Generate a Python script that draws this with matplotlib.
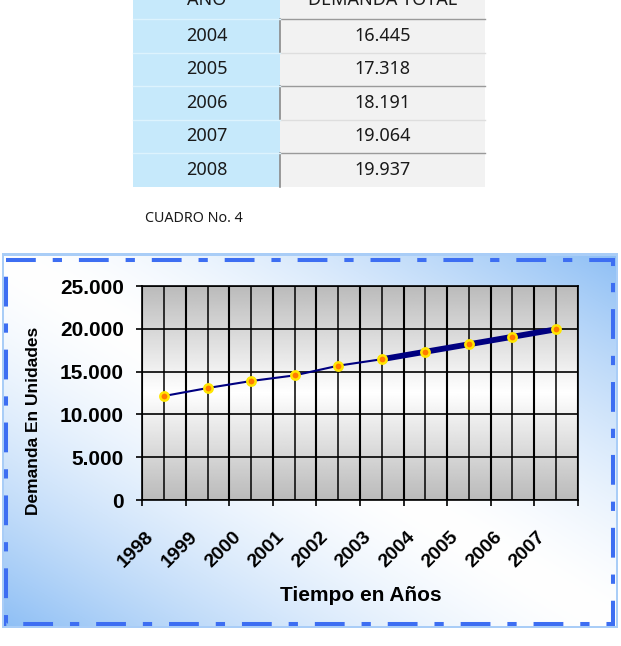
import numpy as np
import matplotlib
matplotlib.use("Agg")
import matplotlib.pyplot as plt
from matplotlib.patches import Rectangle
from matplotlib.transforms import ScaledTranslation

# datos del grafico
years = ["1998", "1999", "2000", "2001", "2002", "2003", "2004", "2005", "2006", "2007"]
demand = [12150, 13080, 13900, 14560, 15690, 16445, 17318, 18191, 19064, 19937]
yticks = [0, 5000, 10000, 15000, 20000, 25000]
ytick_labels = ["0", "5.000", "10.000", "15.000", "20.000", "25.000"]

# datos de la tabla
tab_header = ["AÑO", "DEMANDA TOTAL"]
tab_years = ["2004", "2005", "2006", "2007", "2008"]
tab_values = ["16.445", "17.318", "18.191", "19.064", "19.937"]

W, H = 621, 646
fig = plt.figure(figsize=(W / 100, H / 100), dpi=100)

# fondo en coordenadas de pixel
bg = fig.add_axes([0, 0, 1, 1])
bg.set_xlim(0, W)
bg.set_ylim(H, 0)
bg.axis("off")

# ---- tabla ----
tfont = "Noto Sans"
xl0, xl1, xr1 = 133, 280, 485
row_h = 33.5
row0 = 19
bg.add_patch(Rectangle((xl0, 0), xl1 - xl0, row0 + 5 * row_h, color="#c6e9fb", lw=0))
bg.add_patch(Rectangle((xl1, 0), xr1 - xl1, row0 + 5 * row_h, color="#f2f2f2", lw=0))
for i in range(5):
    y = row0 + i * row_h
    if i % 2 == 0:
        bg.plot([xl1, xr1], [y, y], color="#9a9a9a", lw=1)
        bg.plot([xl1, xl1], [y, y + row_h], color="#8a8a8a", lw=1.2)
    else:
        bg.plot([xl1, xr1], [y, y], color="#dedede", lw=1)
    bg.plot([xl0, xl1], [y, y], color="#ddf3fd", lw=1)
    bg.text((xl0 + xl1) / 2, y + row_h / 2, tab_years[i], ha="center", va="center",
            fontsize=13, family=tfont, color="#1a1a1a")
    bg.text((xl1 + xr1) / 2, y + row_h / 2, tab_values[i], ha="center", va="center",
            fontsize=13, family=tfont, color="#1a1a1a")
# la cabecera sale cortada en el borde superior, como en el original
bg.text((xl0 + xl1) / 2, 5, tab_header[0], ha="center", va="baseline",
        fontsize=13, family=tfont, weight="bold", color="#1a1a1a")
bg.text((xl1 + xr1) / 2, 5, tab_header[1], ha="center", va="baseline",
        fontsize=13, family=tfont, weight="bold", color="#1a1a1a")

bg.text(145, 222, "CUADRO No. 4", ha="left", va="baseline", fontsize=10.3,
        family=tfont, color="#1a1a1a")

# ---- marco del grafico con degradado ----
bg.add_patch(Rectangle((2, 253), 616, 375, color="#a9cdf7", lw=0))
nx, ny = 400, 250
xn = np.linspace(0, 1, nx)[None, :]
yn = np.linspace(1, 0, ny)[:, None]
w = np.abs((xn + yn) / 2 - 0.5) * 2
w = w ** 1.5
blue = np.array([0.56, 0.75, 0.96])
img = (1 - w[..., None]) * np.ones(3) + w[..., None] * blue
bg.imshow(img, extent=(4, 616, 626, 256), aspect="auto", zorder=1)
bg.add_patch(Rectangle((6, 260), 607, 364, fill=False, edgecolor="#3d6ef2",
                       lw=2.9, linestyle=(0, (7.4, 4.2, 2.3, 4.2)), zorder=2))

# ---- grafico ----
cfont = "Liberation Sans"
ax = fig.add_axes([142.3 / W, 1 - 500 / H, 435.4 / W, 214 / H])
x = np.arange(len(years))
ax.set_xlim(-0.5, len(years) - 0.5)
ax.set_ylim(0, 25000)

g = np.linspace(0, 1, 200)[:, None]
v = 1 - np.abs(g - 0.5) * 2
shade = 0.73 + 0.27 * v
ax.imshow(np.repeat(shade, 2, axis=1), cmap="gray", vmin=0, vmax=1,
          extent=(-0.5, len(years) - 0.5, 0, 25000), aspect="auto", zorder=0)

for yv in yticks:
    ax.axhline(yv, color="black", lw=1.2, zorder=1)
for k in range(len(years) + 1):
    ax.axvline(k - 0.5, color="black", lw=1.5, zorder=1)
for k in x:
    ax.axvline(k, color="black", lw=1.1, zorder=1)

ax.plot(x, demand, color="#000080", lw=1.5, zorder=3)
ax.plot(x[5:], demand[5:], color="#000080", lw=4.2, zorder=3)
ax.plot(x, demand, "o", ms=6, mfc="#ff7a00", mec="#ffe600", mew=1.8, zorder=4)

for s in ax.spines.values():
    s.set_color("black")
    s.set_linewidth(1.2)

ax.set_yticks(yticks)
ax.set_yticklabels(ytick_labels, fontsize=15, weight="bold", family=cfont)
ax.set_xticks(np.arange(len(years) + 1) - 0.5)
ax.set_xticklabels([])
ax.tick_params(axis="both", direction="out", length=4.3, width=1.2, color="black")
ax.tick_params(axis="y", pad=9)

off = ScaledTranslation(-0.13, -0.34, fig.dpi_scale_trans)
for k, lab in enumerate(years):
    ax.text(k, 0, lab, transform=ax.get_xaxis_transform() + off, rotation=45,
            rotation_mode="anchor", ha="right", va="center", fontsize=14,
            weight="bold", family=cfont)

fig.text(361 / W, 1 - 601 / H, "Tiempo en Años", ha="center", va="baseline",
         fontsize=15, weight="bold", family=cfont)
fig.text(34 / W, 1 - 421 / H, "Demanda En Unidades", ha="center", va="center",
         rotation=90, fontsize=12.5, weight="bold", family=cfont)

fig.savefig("out.png", dpi=100)
